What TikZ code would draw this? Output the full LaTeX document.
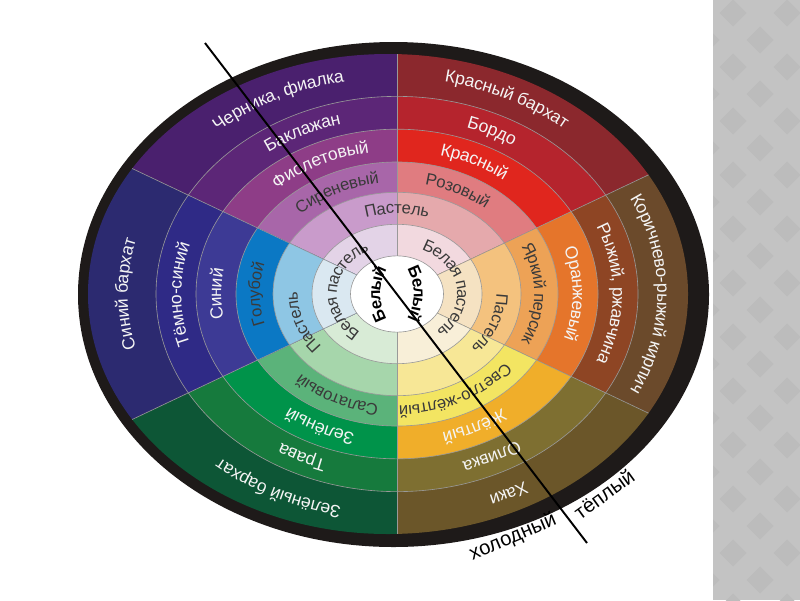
\documentclass[tikz,border=0pt]{standalone}
\usepackage{fontspec}
\setmainfont{Liberation Sans}
\usetikzlibrary{decorations.text}

% sector colours, 1 = innermost ring, 6 = outermost ring
\definecolor{vio1}{HTML}{E3D3E7}\definecolor{vio2}{HTML}{C99BCB}\definecolor{vio3}{HTML}{A866A9}
\definecolor{vio4}{HTML}{8E3D87}\definecolor{vio5}{HTML}{5C2677}\definecolor{vio6}{HTML}{4A206E}
\definecolor{red1}{HTML}{F2D9DF}\definecolor{red2}{HTML}{E5A9AC}\definecolor{red3}{HTML}{E07C80}
\definecolor{red4}{HTML}{E0261E}\definecolor{red5}{HTML}{B5242D}\definecolor{red6}{HTML}{8B282D}
\definecolor{ora1}{HTML}{F5E2C2}\definecolor{ora2}{HTML}{F4C27E}\definecolor{ora3}{HTML}{EDA256}
\definecolor{ora4}{HTML}{E5752B}\definecolor{ora5}{HTML}{8E4524}\definecolor{ora6}{HTML}{6B4A2B}
\definecolor{yel1}{HTML}{F8EFD8}\definecolor{yel2}{HTML}{F7E796}\definecolor{yel3}{HTML}{F3E562}
\definecolor{yel4}{HTML}{F0AE2A}\definecolor{yel5}{HTML}{7E6F31}\definecolor{yel6}{HTML}{6B5629}
\definecolor{grn1}{HTML}{D8EBD6}\definecolor{grn2}{HTML}{A6D6AB}\definecolor{grn3}{HTML}{5BB37A}
\definecolor{grn4}{HTML}{00934A}\definecolor{grn5}{HTML}{167A3D}\definecolor{grn6}{HTML}{0D5636}
\definecolor{blu1}{HTML}{DAE8F1}\definecolor{blu2}{HTML}{8EC6E4}\definecolor{blu3}{HTML}{0B78C4}
\definecolor{blu4}{HTML}{3D3A95}\definecolor{blu5}{HTML}{2F2A86}\definecolor{blu6}{HTML}{2C2A70}
\definecolor{rimblack}{HTML}{1E1A19}
\definecolor{labellight}{HTML}{F4F4F4}
\definecolor{labeldark}{HTML}{3A3A3A}
\definecolor{panelbase}{HTML}{C3C3C3}
\definecolor{paneldark}{HTML}{BCBCBC}

\newcommand\lightfmt{\color{labellight}\fontsize{10}{12}\selectfont}
\newcommand\darkfmt{\color{labeldark}\fontsize{9.5}{11}\selectfont}
\newcommand\whitefmt{\color{black}\bfseries\fontsize{9.5}{11}\selectfont}

% x of centre, radius, angle, format, text
\newcommand\arclabel[5]{%
  \path[decorate,decoration={text along path,text align=center,raise=-3pt,text={|#4|#5}}]
    (#1,0) ++({#3+80}:{#2} and {0.82*#2}) arc[start angle={#3+80},end angle={#3-80},x radius={#2},y radius={0.82*#2}];
}

\tikzset{
  ringline/.style={draw=black!40,line width=0.35pt},
  divider/.style={draw=black,line width=1.1pt},
  warmcold/.style={font=\fontsize{11.5}{14}\selectfont,inner sep=0pt},
}

\begin{document}
\begin{tikzpicture}[x=0.02cm,y=0.02cm]
 \useasboundingbox (0,0) rectangle (800,600);
 \fill[white] (0,0) rectangle (800,600);
 % slide panel on the right
 \begin{scope}
  \clip (713,0) rectangle (800,600);
  \fill[panelbase] (713,0) rectangle (800,600);
  \foreach \i in {-1,0,1}
   \foreach \j in {0,...,11} {
    \fill[paneldark] (733+54*\i,587-54*\j) +(-13.5,0) -- +(0,13.5) -- +(13.5,0) -- +(0,-13.5) -- cycle;
    \fill[paneldark] (760+54*\i,560-54*\j) +(-13.5,0) -- +(0,13.5) -- +(13.5,0) -- +(0,-13.5) -- cycle;
   }
 \end{scope}
 \begin{scope}[shift={(397,306)}]
  \fill[rimblack] (-3.5,-0.5) ellipse[x radius=315.5,y radius=252.5];
  % the six sectors
  \foreach \a/\sec in {120/vio,60/red,0/ora,-60/yel,-120/grn,180/blu} {
   \begin{scope}
    \clip (0,0) -- ({\a-30}:500 and 410) -- (\a:560 and 460) -- ({\a+30}:500 and 410) -- cycle;
    \fill[fill=\sec6] (-9,0) ellipse[x radius=300,y radius=240];
    \foreach \r/\k in {241/5,201/4,161/3,124/2,85/1}
     \fill[fill=\sec\k] (0,0) ellipse[x radius=\r,y radius=0.82*\r];
   \end{scope}
  }
  \fill[white] (0,0) ellipse[x radius=46.5,y radius=38];
  \foreach \r in {46.5,85,124,161,201,241}
   \draw[ringline] (0,0) ellipse[x radius=\r,y radius=0.82*\r];
  \begin{scope}
   \clip (-9,0) ellipse[x radius=300,y radius=240];
   \foreach \a in {30,90,...,330}
    \draw[ringline] (\a:46.5 and 38.1) -- (\a:340 and 279);
  \end{scope}
  % outer ring
  \arclabel{-4.5}{270}{120}{\lightfmt}{Черника, фиалка}
  \arclabel{-4.5}{270}{60}{\lightfmt}{Красный бархат}
  \arclabel{-4.5}{270}{0}{\lightfmt}{Коричнево-рыжий кирпич}
  \arclabel{-4.5}{270}{-60}{\lightfmt}{Хаки}
  \arclabel{-4.5}{270}{-120}{\lightfmt}{Зелёный бархат}
  \arclabel{-4.5}{270}{180}{\lightfmt}{Синий бархат}
  % dark ring
  \arclabel{0}{221}{120}{\lightfmt}{Баклажан}
  \arclabel{0}{221}{60}{\lightfmt}{Бордо}
  \arclabel{0}{221}{0}{\lightfmt}{Рыжий, ржавчина}
  \arclabel{0}{221}{-60}{\lightfmt}{Оливка}
  \arclabel{0}{221}{-120}{\lightfmt}{Трава}
  \arclabel{0}{221}{180}{\lightfmt}{Тёмно-синий}
  % pure ring
  \arclabel{0}{181}{120}{\lightfmt}{Фиолетовый}
  \arclabel{0}{181}{60}{\lightfmt}{Красный}
  \arclabel{0}{181}{0}{\lightfmt}{Оранжевый}
  \arclabel{0}{181}{-60}{\lightfmt}{Жёлтый}
  \arclabel{0}{181}{-120}{\lightfmt}{Зелёный}
  \arclabel{0}{181}{180}{\lightfmt}{Синий}
  % light ring
  \arclabel{0}{142.5}{120}{\darkfmt}{Сиреневый}
  \arclabel{0}{142.5}{60}{\darkfmt}{Розовый}
  \arclabel{0}{142.5}{0}{\darkfmt}{Яркий персик}
  \arclabel{0}{142.5}{-60}{\darkfmt}{Светло-жёлтый}
  \arclabel{0}{142.5}{-120}{\darkfmt}{Салатовый}
  \arclabel{0}{142.5}{180}{\darkfmt}{Голубой}
  % pastel rings
  \arclabel{0}{104.5}{90}{\darkfmt}{Пастель}
  \arclabel{0}{104.5}{197}{\darkfmt}{Пастель}
  \arclabel{0}{104.5}{-18}{\darkfmt}{Пастель}
  \arclabel{0}{65.5}{175}{\darkfmt}{Белая пастель}
  \arclabel{0}{65.5}{8}{\darkfmt}{Белая пастель}
  \arclabel{58}{80}{180}{\whitefmt}{Белый}
  \arclabel{-58}{80}{0}{\whitefmt}{Белый}
  % cold / warm
  \coordinate (topend) at (-192,251);
  \coordinate (botend) at (190,-249);
  \draw[divider] (topend) -- (botend);
  \node[warmcold,rotate=23] (cold) at (116,-243) {холодный};
  \node[warmcold,rotate=36] (warm) at (207,-200) {тёплый};
 \end{scope}
\end{tikzpicture}
\end{document}
